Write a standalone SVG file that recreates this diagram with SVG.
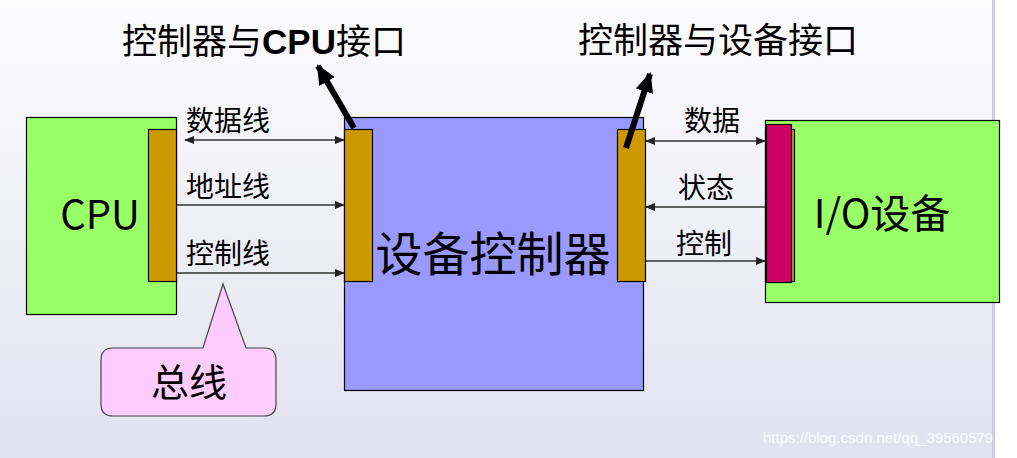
<svg xmlns="http://www.w3.org/2000/svg" width="1017" height="458" viewBox="0 0 1017 458">
<defs>
<linearGradient id="bg" x1="0" y1="0" x2="0" y2="1">
<stop offset="0" stop-color="#FCFCFE"/>
<stop offset="1" stop-color="#E2E2F0"/>
</linearGradient>
<marker id="ah" markerWidth="10" markerHeight="8" refX="9" refY="4" orient="auto-start-reverse" markerUnits="userSpaceOnUse">
<path d="M0,0 L10,4 L0,8 Z" fill="#222"/>
</marker>
<marker id="big" markerWidth="20" markerHeight="18" refX="18" refY="9" orient="auto" markerUnits="userSpaceOnUse">
<path d="M0,0 L20,9 L0,18 Z" fill="#000"/>
</marker>
</defs>
<style>
.box{stroke:#000;stroke-width:1.2}
.green{fill:#99FF66}
.port{fill:#CC9900}
.lbl{font-family:"Noto Sans CJK SC","Liberation Sans",sans-serif;fill:#000}
.conn{stroke:#333;stroke-width:1.5;fill:none}
.thick{stroke:#000;stroke-width:6;fill:none}
</style>
<rect x="0" y="0" width="993" height="458" fill="url(#bg)"/>
<rect x="992" y="0" width="3" height="458" fill="#CDCDE5"/>
<rect x="995" y="0" width="22" height="458" fill="#FFFFFF"/>

<g id="cpu">
<rect class="box green" x="26.5" y="117.5" width="150" height="197"/>
<rect class="box port" x="148.5" y="129.5" width="28" height="152"/>
<text class="lbl" x="100" y="229" font-size="40" text-anchor="middle" font-family="Liberation Sans">CPU</text>
</g>

<g id="controller">
<rect class="box" x="344.5" y="117.5" width="299" height="273" fill="#9999FF"/>
<rect class="box port" x="344.5" y="129.5" width="28" height="152"/>
<rect class="box port" x="617.5" y="129.5" width="28" height="152"/>
<text class="lbl" x="493" y="271" font-size="47" text-anchor="middle">设备控制器</text>
</g>

<g id="io">
<rect class="box green" x="765.5" y="120.5" width="234" height="182"/>
<rect class="box port" x="765.5" y="129.5" width="29" height="152"/>
<rect class="box" x="766.5" y="124.5" width="25" height="158" fill="#CC0066"/>
<text class="lbl" x="882" y="228" font-size="40" text-anchor="middle">I/O设备</text>
</g>

<g id="bus-callout">
<path d="M113,348 L203,348 L223,284 L246,348 L264,348 Q276,348 276,360 L276,404 Q276,416 264,416 L113,416 Q101,416 101,404 L101,360 Q101,348 113,348 Z" fill="#FFCCFF" stroke="#444" stroke-width="1.2"/>
<text class="lbl" x="189" y="396" font-size="38" text-anchor="middle">总线</text>
</g>

<g id="label-cpu-if">
<text class="lbl" x="122" y="54" font-size="35">控制器与<tspan font-family="Liberation Sans" font-weight="bold">CPU</tspan>接口</text>
</g>
<g id="label-dev-if">
<text class="lbl" x="578" y="53" font-size="35">控制器与设备接口</text>
</g>

<g id="connectors">
<line class="conn" x1="185" y1="140" x2="344" y2="140" marker-start="url(#ah)" marker-end="url(#ah)"/>
<line class="conn" x1="177" y1="205" x2="344" y2="205" marker-end="url(#ah)"/>
<line class="conn" x1="177" y1="273" x2="344" y2="273" marker-end="url(#ah)"/>
<line class="conn" x1="646" y1="141" x2="765" y2="141" marker-start="url(#ah)" marker-end="url(#ah)"/>
<line class="conn" x1="765" y1="207" x2="646" y2="207" marker-end="url(#ah)"/>
<line class="conn" x1="646" y1="261" x2="765" y2="261" marker-end="url(#ah)"/>
<line class="thick" x1="354" y1="128" x2="318" y2="66" marker-end="url(#big)"/>
<line class="thick" x1="626" y1="148" x2="650" y2="74" marker-end="url(#big)"/>
</g>

<g id="conn-labels" font-size="28">
<text class="lbl" x="186" y="131">数据线</text>
<text class="lbl" x="186" y="197">地址线</text>
<text class="lbl" x="186" y="264">控制线</text>
<text class="lbl" x="684" y="131">数据</text>
<text class="lbl" x="678" y="198">状态</text>
<text class="lbl" x="676" y="254">控制</text>
</g>

<text x="763" y="443" font-family="Liberation Sans" font-size="15" fill="#FFFFFF" fill-opacity="0.8">https://blog.csdn.net/qq_39560579</text>
</svg>
